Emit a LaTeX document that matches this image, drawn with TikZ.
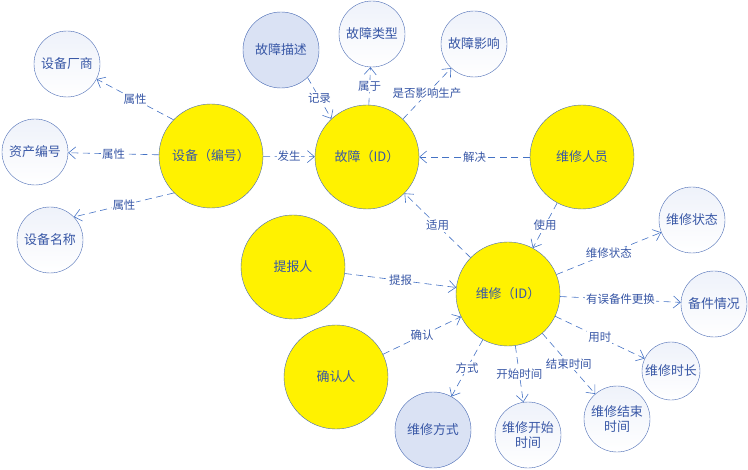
\documentclass[tikz,border=0pt]{standalone}
\usepackage{xcolor}
\usepackage{fontspec}
\setmainfont{Noto Sans CJK SC}
\usepackage{tikz}
\usetikzlibrary{arrows.meta}
\definecolor{garis}{HTML}{4472C4}
\definecolor{tepi}{HTML}{4A6BB4}
\definecolor{teks}{HTML}{3857A6}
\definecolor{isi}{HTML}{DAE2F4}
\tikzstyle{utama} = [circle, minimum size=104bp, inner sep=0pt, draw=tepi, fill=yellow, text=teks, font=\fontsize{13}{15}\selectfont, align=center]
\tikzstyle{atribut} = [circle, minimum size=66bp, inner sep=0pt, draw=tepi, top color=isi!45!white, bottom color=white, text=teks, font=\fontsize{13}{15}\selectfont, align=center]
\tikzstyle{atribut2} = [atribut, minimum size=76bp, fill=isi, top color=isi, bottom color=isi]
\tikzstyle{connect1} = [garis, semithick, dash pattern=on 7bp off 4.5bp, -{Straight Barb[length=7bp, width=12bp]}]
\tikzstyle{lbl} = [midway, fill=white, inner sep=1pt, text=teks, font=\fontsize{11.5}{13}\selectfont]

\begin{document}
\begin{tikzpicture}[x=1bp, y=-1bp]
			\useasboundingbox (0,0) rectangle (748,470);
			% definisi untuk node
			% \node nama [style] at (x,y) {text};
			\node (sb) [utama] at (211,156) {设备（编号）};       % node acuan kiri
			\node (gz) [utama] at (367,157) {故障（ID）};
			\node (wry) [utama] at (582,157) {维修人员};
			\node (tbr) [utama] at (293,267) {提报人};
			\node (wx) [utama] at (508,294) {维修（ID）};         % node acuan kanan
			\node (qrr) [utama] at (336,377) {确认人};

			\node (cs) [atribut] at (67,64) {设备厂商};
			\node (zc) [atribut] at (35,152) {资产编号};
			\node (mc) [atribut] at (50,240) {设备名称};
			\node (ms) [atribut2] at (281,50) {故障描述};
			\node (lx) [atribut] at (372,34) {故障类型};
			\node (yx) [atribut] at (474,44) {故障影响};
			\node (zt) [atribut] at (692,220) {维修状态};
			\node (bj) [atribut] at (714,304) {备件情况};
			\node (sc) [atribut, minimum size=58bp] at (671,371) {维修时长};
			\node (js) [atribut] at (617,419) {维修结束\\时间};
			\node (ks) [atribut] at (528,435) {维修开始\\时间};
			\node (fs) [atribut2] at (433,430) {维修方式};

			% menggambar untuk garis koneksi
			% \draw [connect1] (nama) -- node [lbl] {text} (nama);
			\draw [connect1] (sb.136) -- node [lbl] {属性} (cs.-27);
			\draw [connect1] (sb) -- node [lbl] {属性} (zc);
			\draw [connect1] (sb.225) -- node [lbl] {属性} (mc.44);
			\draw [connect1] (sb) -- node [lbl] {发生} (gz);
			\draw [connect1] (ms.-46) -- node [lbl] {记录} (gz.133);
			\draw [connect1] (gz.88) -- node [lbl] {属于} (lx);
			\draw [connect1] (gz) -- node [lbl] {是否影响生产} (yx);
			\draw [connect1] (wry) -- node [lbl] {解决} (gz);
			\draw [connect1] (wx) -- node [lbl] {适用} (gz);
			\draw [connect1] (wry) -- node [lbl] {使用} (wx);
			\draw [connect1] (tbr) -- node [lbl] {提报} (wx);
			\draw [connect1] (qrr) -- node [lbl] {确认} (wx);
			\draw [connect1] (wx) -- node [lbl] {方式} (fs);
			\draw [connect1] (wx) -- node [lbl] {开始时间} (ks);
			\draw [connect1] (wx) -- node [lbl] {结束时间} (js);
			\draw [connect1] (wx) -- node [lbl] {用时} (sc);
			\draw [connect1] (wx) -- node [lbl] {有误备件更换} (bj);
			\draw [connect1] (wx) -- node [lbl] {维修状态} (zt);
		\end{tikzpicture}
\end{document}
